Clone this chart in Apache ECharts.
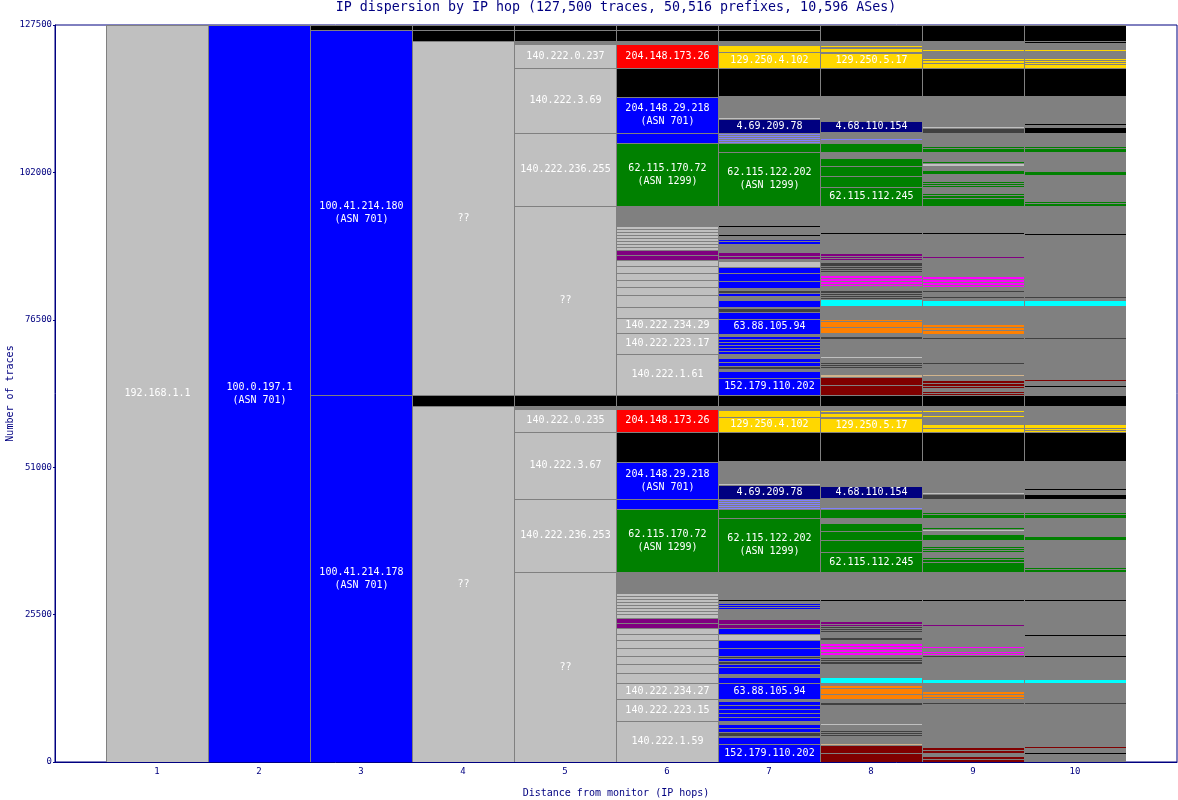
<!DOCTYPE html>
<html><head><meta charset="utf-8">
<script src="https://cdn.jsdelivr.net/npm/echarts/dist/echarts.min.js"></script>
<style>html,body{margin:0;padding:0;background:#fff}#c{width:1178px;height:800px}</style>
</head><body><div id="c"></div>
<script>
const TITLE = 'IP dispersion by IP hop (127,500 traces, 50,516 prefixes, 10,596 ASes)';
const TOTAL = 127500;
const yTicks = [0, 25500, 51000, 76500, 102000, 127500];
const hopLabels = [1,2,3,4,5,6,7,8,9,10];

// segments per hop, top to bottom: [traces, colour key, label]
const hop1 = [[127500,'lg','192.168.1.1']];
const hop2 = [[127500,'b','100.0.197.1\n(ASN 701)']];
const hop3 = [[865,'k'],[63145,'b','100.41.214.180\n(ASN 701)'],[63491,'b','100.41.214.178\n(ASN 701)']];
const hop4 = [[865,'k'],[1903,'k'],[61242,'lg','??'],[1903,'k'],[61588,'lg','??']];
const hop5 = [
 [865,'k'],[1903,'k'],[519,'g'],[4152,'lg','140.222.0.237'],[11245,'lg','140.222.3.69'],[12629,'lg','140.222.236.255'],[32697,'lg','??'],
 [1903,'k'],[519,'g'],[3979,'lg','140.222.0.235'],[11591,'lg','140.222.3.67'],[12629,'lg','140.222.236.253'],[32870,'lg','??']
];
const hop6 = [
 [865,'k'],[1903,'k'],[519,'g'],[4152,'r','204.148.173.26'],[5017,'k'],[6228,'b','204.148.29.218\n(ASN 701)'],[1730,'b'],[10899,'gr','62.115.170.72\n(ASN 1299)'],[3460,'g'],
 [519,'lg'],[519,'lg'],[519,'lg'],[519,'lg'],[519,'lg'],[519,'lg'],[519,'lg'],[519,'lg'],
 [865,'p'],[865,'p'],[1038,'lg'],[1211,'lg'],[1211,'lg'],[1211,'lg'],[1384,'lg'],[2076,'lg'],[1903,'lg'],
 [2595,'lg','140.222.234.29'],[3633,'lg','140.222.223.17'],[7093,'lg','140.222.1.61'],
 [1903,'k'],[519,'g'],[3979,'r','204.148.173.26'],[5190,'k'],[6401,'b','204.148.29.218\n(ASN 701)'],[1730,'b'],[10899,'gr','62.115.170.72\n(ASN 1299)'],[3633,'g'],
 [519,'lg'],[519,'lg'],[519,'lg'],[519,'lg'],[519,'lg'],[519,'lg'],[519,'lg'],[692,'lg'],
 [865,'p'],[865,'p'],[1038,'lg'],[1038,'lg'],[1384,'lg'],[1384,'lg'],[1384,'lg'],[1557,'lg'],[1730,'lg'],
 [2768,'lg','140.222.234.27'],[3806,'lg','140.222.223.15'],[7093,'lg','140.222.1.59']
];
const hop7 = [
 [865,'k'],[1903,'k'],[692,'g'],[1211,'y'],[2768,'y','129.250.4.102'],[4844,'k'],[3806,'g'],[173,'lg'],[2422,'n','4.69.209.78'],
 [346,'lb'],[346,'lb'],[346,'lb'],[346,'lb'],[346,'lb'],[1557,'gr'],[9342,'gr','62.115.122.202\n(ASN 1299)'],
 [3460,'g'],[173,'k'],[1384,'g'],[173,'k'],[519,'g'],[346,'b'],[519,'b'],[1384,'g'],[692,'p'],[519,'p'],[346,'g'],[1038,'lg'],
 [1038,'b'],[1384,'b'],[1211,'b'],[346,'g'],[519,'dg'],[519,'b'],[692,'g'],[1211,'b'],[173,'g'],[692,'dg'],[1211,'b'],
 [2595,'b','63.88.105.94'],[346,'g'],[519,'b'],[519,'b'],[519,'b'],[519,'b'],[519,'b'],[519,'b'],[692,'g'],[692,'b'],[692,'b'],
 [519,'dg'],[346,'g'],[1211,'b'],[2941,'b','152.179.110.202'],
 [1903,'k'],[692,'g'],[1211,'y'],[2595,'y','129.250.4.102'],[5017,'k'],[3979,'g'],[173,'lg'],[2422,'n','4.69.209.78'],
 [346,'lb'],[346,'lb'],[346,'lb'],[346,'lb'],[346,'lb'],[1557,'gr'],[9342,'gr','62.115.122.202\n(ASN 1299)'],
 [4671,'g'],[346,'k'],[346,'g'],[346,'b'],[346,'b'],[346,'b'],[346,'g'],[1384,'g'],[865,'p'],[692,'p'],[1038,'b'],[1038,'lg'],
 [1384,'b'],[1384,'b'],[346,'dg'],[519,'b'],[519,'dg'],[519,'b'],[1211,'b'],[519,'g'],[1038,'b'],[2768,'b','63.88.105.94'],
 [346,'g'],[692,'b'],[692,'b'],[692,'b'],[692,'b'],[692,'b'],[519,'g'],[692,'b'],[692,'b'],[692,'dg'],[173,'g'],[1211,'b'],
 [3114,'b','152.179.110.202']
];
const hop8 = [
 [2768,'k'],[865,'g'],[173,'y'],[173,'g'],[692,'y'],[173,'g'],[2595,'y','129.250.5.17'],[4844,'k'],[4325,'g'],[1903,'n','4.68.110.154'],
 [1211,'g'],[173,'lb'],[519,'g'],[1557,'gr'],[1038,'g'],[1384,'gr'],[1730,'gr'],[1903,'gr'],[3287,'gr','62.115.112.245'],
 [4671,'g'],[173,'k'],[3287,'g'],[519,'p'],[346,'p'],[346,'p'],[346,'g'],[692,'dg'],[346,'dg'],[346,'dg'],[346,'dg'],[519,'g'],
 [519,'m'],[519,'m'],[519,'m'],[346,'m'],[692,'g'],[519,'dg'],[346,'dg'],[346,'dg'],[346,'dg'],[1211,'c'],[2249,'g'],
 [346,'o'],[1038,'o'],[1038,'o'],[519,'g'],[519,'dg'],[3114,'g'],[173,'lg'],[692,'g'],[346,'dg'],[346,'dg'],[346,'dg'],[173,'g'],
 [865,'g'],[519,'t'],[1384,'mr'],[1730,'mr'],
 [1903,'k'],[865,'g'],[173,'y'],[173,'g'],[692,'y'],[173,'g'],[2422,'y','129.250.5.17'],[5017,'k'],[4325,'g'],[2076,'n','4.68.110.154'],
 [1730,'g'],[173,'lb'],[1557,'gr'],[865,'g'],[1384,'gr'],[1557,'gr'],[2076,'gr'],[3460,'gr','62.115.112.245'],
 [4671,'g'],[346,'k'],[3460,'g'],[519,'p'],[346,'p'],[346,'dg'],[346,'dg'],[346,'dg'],[865,'g'],[519,'dg'],[519,'g'],
 [519,'m'],[519,'m'],[519,'m'],[519,'m'],[346,'g'],[346,'dg'],[346,'dg'],[519,'dg'],[2249,'g'],[1038,'c'],[346,'g'],
 [519,'o'],[1038,'o'],[865,'o'],[519,'g'],[519,'dg'],[3287,'g'],[173,'lg'],[865,'g'],[346,'dg'],[346,'dg'],[346,'dg'],[1211,'g'],
 [346,'t'],[1384,'mr'],[1557,'mr']
];
const hop9 = [
 [2768,'k'],[1557,'g'],[173,'y'],[1211,'g'],[346,'y'],[519,'y'],[865,'y'],[4844,'k'],[5363,'g'],[173,'lg'],[865,'dg'],[2249,'g'],
 [346,'gr'],[692,'gr'],[1557,'g'],[346,'gr'],[519,'lg'],[692,'g'],[692,'gr'],[1211,'g'],[346,'gr'],[346,'gr'],[346,'gr'],[1038,'g'],
 [346,'gr'],[519,'gr'],[1384,'gr'],
 [4671,'g'],[173,'k'],[3806,'g'],[346,'p'],[3114,'g'],[519,'m'],[519,'m'],[519,'m'],[346,'m'],[519,'g'],[346,'dg'],[865,'g'],
 [173,'dg'],[346,'g'],[1038,'c'],[3114,'g'],[519,'o'],[519,'o'],[692,'o'],[519,'g'],[346,'dg'],[4152,'g'],[173,'dg'],[1730,'g'],
 [346,'t'],[692,'g'],[519,'mr'],[519,'mr'],[346,'mr'],[519,'g'],[346,'mr'],[346,'mr'],
 [1903,'k'],[865,'g'],[173,'y'],[692,'g'],[173,'y'],[1211,'g'],[692,'y'],[692,'y'],[5017,'k'],[5536,'g'],[173,'lg'],[865,'dg'],
 [2249,'g'],[346,'gr'],[692,'gr'],[1557,'g'],[346,'gr'],[346,'lg'],[519,'g'],[1038,'gr'],[1038,'g'],[346,'gr'],[346,'gr'],[346,'gr'],
 [865,'g'],[346,'gr'],[519,'gr'],[1730,'gr'],
 [4671,'g'],[346,'k'],[3979,'g'],[346,'p'],[3460,'g'],[346,'m'],[519,'g'],[346,'m'],[346,'m'],[173,'g'],[173,'dg'],[3806,'g'],
 [692,'c'],[1384,'g'],[519,'o'],[519,'o'],[346,'o'],[692,'g'],[173,'dg'],[7439,'g'],[519,'mr'],[519,'mr'],[519,'g'],[519,'mr'],[519,'mr']
];
const hop10 = [
 [2768,'k'],[173,'g'],[173,'k'],[1211,'g'],[173,'y'],[1211,'g'],[346,'y'],[346,'y'],[346,'y'],[692,'y'],[4844,'k'],[4844,'g'],
 [173,'k'],[346,'g'],[1038,'k'],[2249,'g'],[346,'gr'],[692,'gr'],[3287,'g'],[692,'gr'],[4498,'g'],[346,'gr'],[519,'gr'],
 [4844,'g'],[173,'k'],[10726,'g'],[173,'dg'],[346,'g'],[1038,'c'],[5536,'g'],[173,'dg'],[7093,'g'],[173,'mr'],[865,'g'],[173,'k'],[1384,'g'],
 [1903,'k'],[3114,'g'],[692,'y'],[346,'y'],[346,'y'],[5017,'k'],[4844,'g'],[173,'k'],[692,'g'],[865,'k'],[2249,'g'],[346,'gr'],
 [692,'gr'],[3114,'g'],[692,'gr'],[4671,'g'],[346,'gr'],[519,'gr'],
 [4671,'g'],[346,'k'],[5882,'g'],[173,'k'],[3460,'g'],[173,'k'],[3806,'g'],[692,'c'],[3460,'g'],[173,'dg'],[7439,'g'],[173,'mr'],
 [865,'g'],[173,'k'],[1384,'g']
];

const palette = {lg:'#c0c0c0', g:'#808080', dg:'#404040', k:'#000000', b:'#0000ff', n:'#000080', r:'#ff0000',
  y:'#ffd700', gr:'#008000', p:'#800080', m:'#ff00ff', c:'#00ffff', o:'#ff8000', mr:'#800000', lb:'#8080ff', t:'#d2b48c'};
const NAVY = '#000080';
const FONT = '"DejaVu Sans Mono", monospace';

const hops = [hop1,hop2,hop3,hop4,hop5,hop6,hop7,hop8,hop9,hop10];
const items = [];
hops.forEach((segs, i) => {
  let top = TOTAL;
  segs.forEach(s => {
    items.push({hop: hopLabels[i], lo: top - s[0], hi: top, color: palette[s[1]], label: s[2] || ''});
    top -= s[0];
  });
});

const chart = echarts.init(document.getElementById('c'), null, {renderer:'canvas'});
chart.setOption({
  animation: false,
  graphic: [{type:'text', style:{text: TITLE, x: 616, y: 8, fill: NAVY, font: '13.3px ' + FONT,
    align:'center', verticalAlign:'middle', textAlign:'center', textVerticalAlign:'middle'}}],
  grid: {left:55, right:1, top:25, bottom:38, containLabel:false, outerBoundsMode:'none',
    show:true, borderColor:NAVY, borderWidth:1, backgroundColor:'#fff'},
  xAxis: {type:'value', min:0, max:11, interval:1,
    axisLine:{lineStyle:{color:NAVY}}, axisTick:{show:false}, splitLine:{show:false},
    axisLabel:{color:NAVY, fontSize:9, fontFamily:FONT, margin:5,
      formatter: v => hopLabels.indexOf(v) >= 0 ? String(v) : ''},
    name:'Distance from monitor (IP hops)', nameLocation:'middle', nameGap:26, nameMoveOverlap:false,
    nameTextStyle:{color:NAVY, fontSize:10, fontFamily:FONT}},
  yAxis: {type:'value', min:0, max:TOTAL, interval:25500,
    axisLine:{show:true, lineStyle:{color:NAVY}}, axisTick:{show:true, length:2, lineStyle:{color:NAVY}}, splitLine:{show:false},
    axisLabel:{color:NAVY, fontSize:9, fontFamily:FONT, margin:3,
      formatter: v => yTicks.indexOf(v) >= 0 ? String(v) : ''},
    name:'Number of traces', nameLocation:'middle', nameGap:40, nameMoveOverlap:false,
    nameTextStyle:{color:NAVY, fontSize:10, fontFamily:FONT}},
  series: [{
    type:'custom', clip:false,
    data: items.map((d, idx) => [d.hop, d.lo, d.hi, idx]),
    renderItem: (params, api) => {
      const it = items[params.dataIndex];
      const a = api.coord([it.hop - 0.5, it.hi]);
      const b = api.coord([it.hop + 0.5, it.lo]);
      const x0 = Math.round(a[0]), x1 = Math.round(b[0]);
      const y0 = Math.round(a[1]), y1 = Math.round(b[1]);
      const w = x1 - x0, h = y1 - y0;
      if (h <= 0) return null;
      const ch = [
        {type:'rect', shape:{x:x0, y:y0, width:w, height:h}, style:{fill:'#808080'}},
        {type:'rect', shape:{x:x0+1, y: h > 1 ? y0+1 : y0, width:w-1, height: h > 1 ? h-1 : 1}, style:{fill:it.color}}
      ];
      if (it.label) {
        ch.push({type:'text', style:{text: it.label, x:(x0+x1)/2 + 0.5, y:(y0+y1)/2, fill:'#ffffff',
          font:'10px ' + FONT, align:'center', verticalAlign:'middle', lineHeight:13}});
      }
      return {type:'group', children: ch};
    }
  }]
});
</script></body></html>
